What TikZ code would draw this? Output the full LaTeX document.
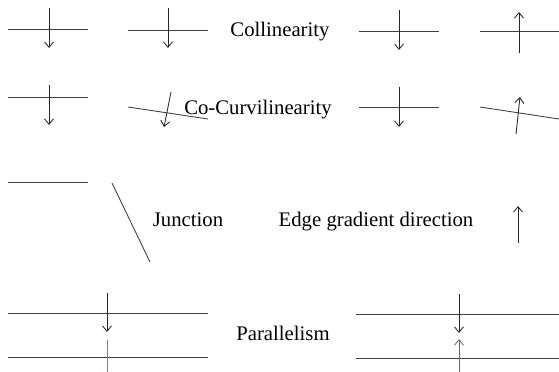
\documentclass[tikz,border=0pt]{standalone}
\usepackage{fontspec}
\setmainfont{Liberation Serif}
\usetikzlibrary{arrows.meta}

\begin{document}
\begin{tikzpicture}[
  x=0.02cm, y=-0.02cm,
  font=\fontsize{11.8}{14}\selectfont,
  seg/.style={draw=black!75, line width=0.5pt},
  grad/.style={draw=black!85, line width=0.5pt, -{Straight Barb[length=1.1mm, width=1.8mm]}},
  lab/.style={inner sep=0pt, anchor=base}
]
\path[use as bounding box] (0,0) rectangle (559,372);

% collinearity
\draw[seg] (8,29) -- (88,29);
\draw[grad] (49,8) -- (49,48);
\draw[seg] (128,30) -- (208,30);
\draw[grad] (168,8) -- (168,48);
\node[lab] (colin) at (280,36) {Collinearity};
\draw[seg] (359,31) -- (439,31);
\draw[grad] (399,10) -- (399,50);
\draw[seg] (480,31) -- (559,31);
\draw[grad] (519,53) -- (519,12);

% co-curvilinearity
\draw[seg] (8,97) -- (88,97);
\draw[grad] (49,85) -- (49,125);
\draw[seg] (128,107) -- (208,119);
\draw[grad] (171,92) -- (164,127);
\node[lab] (cocurv) at (258,114) {Co-Curvilinearity};
\draw[seg] (359,107) -- (439,107);
\draw[grad] (399,87) -- (399,127);
\draw[seg] (480,107) -- (559,119);
\draw[grad] (516,134) -- (520,97);

% junction
\draw[seg] (8,182) -- (88,182);
\draw[seg] (112,183) -- (150,262);
\node[lab] (junc) at (188,226) {Junction};
\node[lab] (edge) at (376,226) {Edge gradient direction};
\draw[grad] (518,243) -- (518,206);

% parallelism
\draw[seg] (8,313) -- (208,313);
\draw[seg] (8,357) -- (208,357);
\draw[grad] (107,293) -- (107,332);
\draw[grad, draw=black!50] (107,340) -- (107,378);
\node[lab] (para) at (283,340) {Parallelism};
\draw[seg] (356,314) -- (559,314);
\draw[seg] (356,358) -- (559,358);
\draw[grad] (459,294) -- (459,333);
\draw[grad, draw=black!60] (459,375) -- (459,339);
\end{tikzpicture}
\end{document}
